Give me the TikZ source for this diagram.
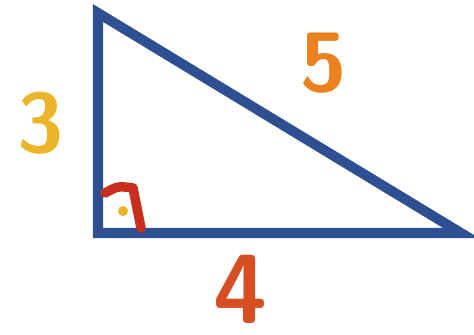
\documentclass[tikz,border=0pt]{standalone}
\usepackage{tikz}
\usetikzlibrary{calc}
\definecolor{triblue}{RGB}{46,80,146}
\definecolor{numgold}{RGB}{236,180,40}
\definecolor{numorange}{RGB}{234,130,32}
\definecolor{numred}{RGB}{214,78,34}
\definecolor{markred}{RGB}{200,45,30}

\begin{document}
\begin{tikzpicture}[
    x=0.02cm, y=-0.02cm,
    side/.style={triblue, line width=5.7pt, line join=miter},
    number/.style={font=\sffamily\bfseries\fontsize{48}{48}\selectfont, inner sep=0pt},
    anglemark/.style={markred, line width=5.4pt, line cap=round, line join=round}
  ]
    \useasboundingbox (0,0) rectangle (474,335);

    % Corners
    \coordinate (top) at (98,13);
    \coordinate (origin) at (98,233);
    \coordinate (right) at (461,233);

    % Sides
    \draw[side] (top) -- (origin) -- (right) -- cycle;

    % Right angle mark
    \coordinate (m1) at (105,193);
    \coordinate (m2) at (133,188);
    \coordinate (m3) at (141,228);
    \draw[anglemark] (m1) .. controls (118,186) .. (m2) -- (m3);
    \fill[numgold] (123,211) circle (5);

    % Side lengths
    \node[number, text=numgold] (a) at (41,123) {3};
    \node[number, text=numorange] (c) at (324,63) {5};
    \node[number, text=numred, font=\sffamily\bfseries\fontsize{56}{56}\selectfont] (b) at (241,289) {4};
\end{tikzpicture}
\end{document}
